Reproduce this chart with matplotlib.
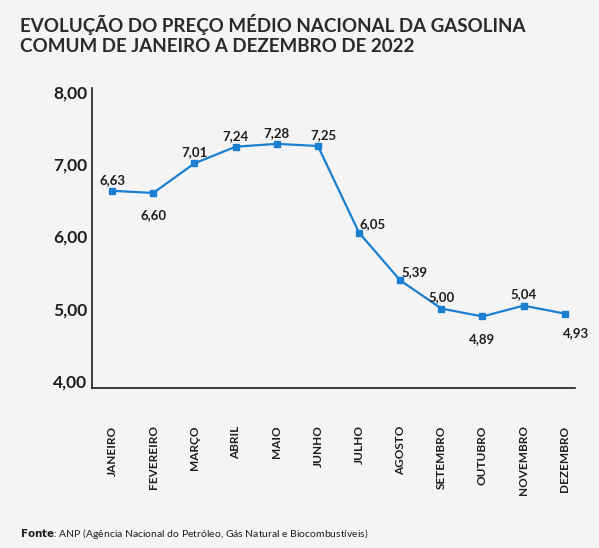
import matplotlib

matplotlib.use("Agg")

import matplotlib.pyplot as plt

months = ["JANEIRO", "FEVEREIRO", "MARÇO", "ABRIL", "MAIO", "JUNHO", "JULHO",
          "AGOSTO", "SETEMBRO", "OUTUBRO", "NOVEMBRO", "DEZEMBRO"]
prices = [6.63, 6.60, 7.01, 7.24, 7.28, 7.25, 6.05, 5.39, 5.00, 4.89, 5.04, 4.93]
# label offsets in points (dx, dy)
offsets = [(0, 8), (0, -16), (0, 8), (0, 8), (0, 8), (4, 8), (10, 6), (10, 6),
           (0, 8), (0, -16), (0, 8), (8, -14)]
yticks = [4, 5, 6, 7, 8]

BG = "#f4f4f4"
BLUE = "#1a7fd0"
DARK = "#1e1e1e"

plt.rcParams["font.family"] = ["Lato", "DejaVu Sans"]

fig = plt.figure(figsize=(5.99, 5.48), dpi=100, facecolor=BG)
ax = fig.add_axes([0.1536, 0.292, 0.8064, 0.547], facecolor=BG)

x = list(range(len(months)))
ax.plot(x, prices, color=BLUE, linewidth=1.6, marker="s", markersize=4)
for xi, p, (dx, dy) in zip(x, prices, offsets):
    ax.annotate(f"{p:.2f}".replace(".", ","), xy=(xi, p), xytext=(dx, dy),
                textcoords="offset points", ha="center", va="center",
                fontsize=9.5, fontweight="bold", color=DARK)

ax.set_xlim(-0.49, 11.25)
ax.set_ylim(3.9, 8.05)
ax.set_yticks(yticks)
ax.set_yticklabels([f"{v:.2f}".replace(".", ",") for v in yticks],
                   fontsize=12.5, fontweight="bold", color=DARK)
ax.set_xticks(x)
ax.set_xticklabels(months, rotation=90, fontsize=8.5, fontweight="bold", color=DARK)
ax.tick_params(length=0, pad=27, axis="x")
ax.tick_params(length=0, pad=28, axis="y")
for lbl in ax.get_yticklabels():
    lbl.set_horizontalalignment("left")
for s in ["top", "right"]:
    ax.spines[s].set_visible(False)
for s in ["left", "bottom"]:
    ax.spines[s].set_color(DARK)
    ax.spines[s].set_linewidth(1.2)

fig.text(0.033, 0.975, "EVOLUÇÃO DO PREÇO MÉDIO NACIONAL DA GASOLINA\nCOMUM DE JANEIRO A DEZEMBRO DE 2022",
         ha="left", va="top", fontsize=13.5, fontweight="bold", color="#2a2a2a", linespacing=1.2)
fig.text(0.033, 0.012, r"$\bf{Fonte}$: ANP (Agência Nacional do Petróleo, Gás Natural e Biocombustíveis)",
         ha="left", va="bottom", fontsize=7.5, color=DARK)

fig.savefig("out.png", dpi=100, facecolor=BG)
